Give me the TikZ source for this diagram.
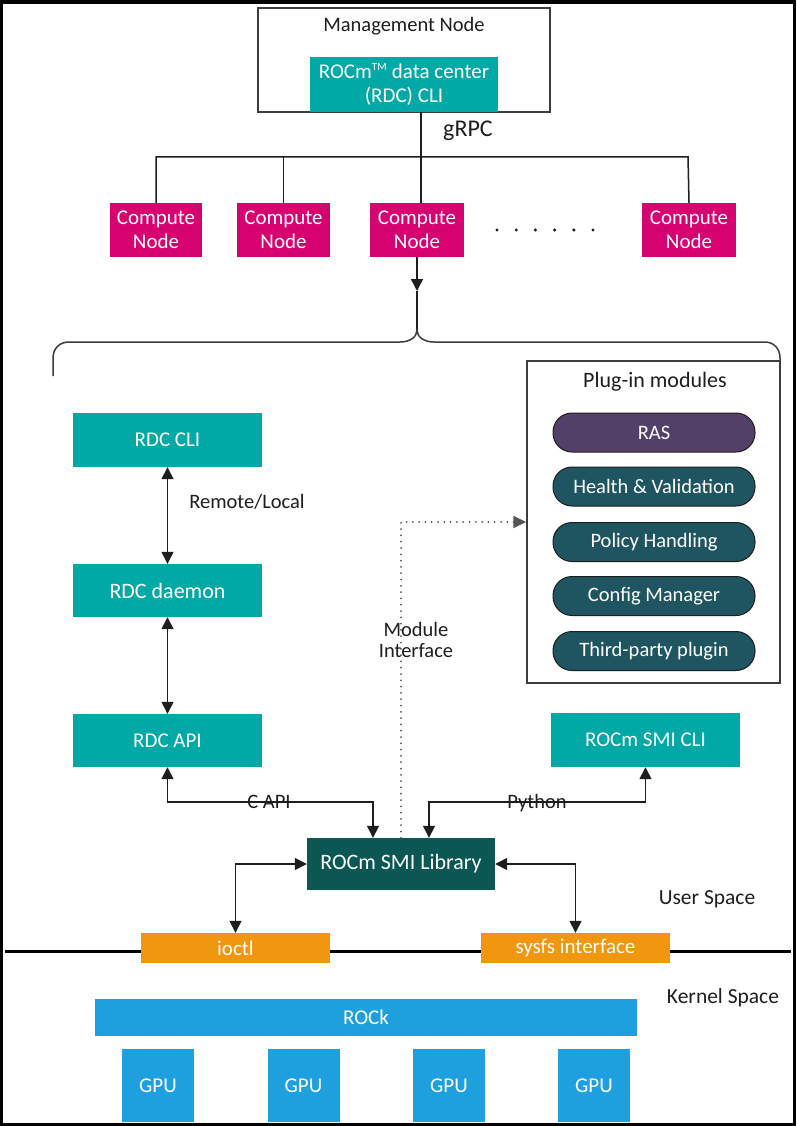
\documentclass[tikz,border=0pt]{standalone}
\usepackage{fontspec}
\setmainfont{Carlito}
\usetikzlibrary{arrows.meta}
\definecolor{tealA}{RGB}{0,169,165}
\definecolor{magA}{RGB}{214,2,112}
\definecolor{libA}{RGB}{10,87,83}
\definecolor{pillA}{RGB}{31,85,97}
\definecolor{rasA}{RGB}{83,64,105}
\definecolor{orangeA}{RGB}{240,150,15}
\definecolor{blueA}{RGB}{30,160,222}
\definecolor{inkA}{RGB}{30,30,30}
\definecolor{frameA}{RGB}{60,60,60}
\tikzset{
  fillbox/.style={rectangle, inner sep=0pt, text=white, align=center, font=\fontsize{21}{24}\selectfont},
  tealbox/.style={fillbox, fill=tealA},
  magbox/.style={fillbox, fill=magA},
  pill/.style={fillbox, fill=pillA, draw=inkA, line width=1pt, rounded corners=19pt, minimum width=202pt, minimum height=39pt},
  gpubox/.style={fillbox, fill=blueA, minimum width=72pt, minimum height=73pt},
  framebox/.style={rectangle, draw=frameA, line width=1.5pt, inner sep=0pt},
  lbl/.style={inner sep=0pt, text=inkA, align=center, font=\fontsize{20.5}{21}\selectfont},
  conn/.style={draw=inkA, line width=1.5pt},
  tip/.style={-{Triangle[length=12pt,width=12pt]}},
  tips/.style={{Triangle[length=12pt,width=12pt]}-{Triangle[length=12pt,width=12pt]}},
}
\begin{document}
\begin{tikzpicture}[x=1pt,y=-1pt]
\useasboundingbox (0,0) rectangle (796,1126);
\fill[white] (0,0) rectangle (796,1126);
\draw[black, line width=3pt] (1.5,2.5) rectangle (794.5,1124.5);
\fill[black] (0,0) rectangle (796,4);

% management node
\node[framebox, minimum width=292pt, minimum height=104pt] (mgmt) at (404,60) {};
\node[lbl] (mgmtlbl) at (404,26) {Management Node};
\node[tealbox, minimum width=188pt, minimum height=55pt] (rdctop) at (404,84.5) {ROCm\textsuperscript{\fontsize{11}{11}\selectfont TM} data center\\(RDC) CLI};
\node[lbl, font=\fontsize{24}{24}\selectfont] (grpc) at (468,131) {gRPC};

% compute nodes
\node[magbox, minimum width=92pt, minimum height=54pt] (c1) at (156,230) {Compute\\Node};
\node[magbox, minimum width=93pt, minimum height=54pt] (c2) at (283.5,230) {Compute\\Node};
\node[magbox, minimum width=94pt, minimum height=54pt] (c3) at (417,230) {Compute\\Node};
\node[magbox, minimum width=94pt, minimum height=54pt] (c5) at (689,230) {Compute\\Node};
\foreach \i in {0,...,5} { \fill[inkA] (497+\i*19.2,230) circle (1.7pt); }

\coordinate (busL) at (156,157);
\coordinate (busR) at (688,157);
\coordinate (busC) at (421,157);
\draw[conn] (c1.north) -- (busL) -- (busR) -- (c5.north);
\draw[conn] (c2.north) -- (c2.north |- busL);
\draw[conn] (rdctop.south -| busC) -- (c3.north -| busC);

% arrow to brace
\coordinate (atip) at (417,291);
\coordinate (btip) at (417,330);
\draw[conn, tip] (c3.south) -- (atip);
\draw[conn] (atip) -- (btip);
\draw[draw=frameA, line width=1.5pt] (53,376) -- (53,358) .. controls (53,349) and (59,342) .. (69,342) -- (400,342) .. controls (410,342) and (417,337) .. (btip) .. controls (417,337) and (424,342) .. (434,342) -- (765,342) .. controls (774,342) and (780,349) .. (780,358) -- (780,376);

% plug-in modules
\node[framebox, minimum width=253pt, minimum height=322pt] (plug) at (653.5,522) {};
\node[lbl, font=\fontsize{22}{22}\selectfont] (pluglbl) at (655,382) {Plug-in modules};
\node[pill, fill=rasA, font=\fontsize{20.5}{24}\selectfont] (ras) at (654,432.5) {RAS};
\node[pill, font=\fontsize{20.5}{24}\selectfont] (health) at (654,486.5) {Health \& Validation};
\node[pill, font=\fontsize{20.5}{24}\selectfont] (policy) at (654,542) {Policy Handling};
\node[pill, font=\fontsize{20.5}{24}\selectfont] (config) at (654,596) {Config Manager};
\node[pill, font=\fontsize{20.5}{24}\selectfont] (third) at (654,651) {Third-party plugin};

% left column
\node[tealbox, minimum width=189pt, minimum height=54pt] (rdccli) at (167.5,440) {RDC CLI};
\node[tealbox, minimum width=189pt, minimum height=53pt, font=\fontsize{22}{24}\selectfont] (rdcd) at (167.5,590.5) {RDC daemon};
\node[tealbox, minimum width=189pt, minimum height=53pt] (rdcapi) at (167.5,740.5) {RDC API};
\draw[conn, tips] (rdccli.south) -- (rdcd.north);
\draw[conn, tips] (rdcd.south) -- (rdcapi.north);
\node[lbl] (remote) at (247,502) {Remote/Local};

\node[tealbox, minimum width=189pt, minimum height=54pt] (smicli) at (645.5,740) {ROCm SMI CLI};
\node[fillbox, fill=libA, minimum width=188pt, minimum height=52pt, font=\fontsize{22}{24}\selectfont] (lib) at (401,864) {ROCm SMI Library};

% module interface (dotted)
\coordinate (mi) at (401,522);
\draw[inkA!75, line width=2pt, line cap=round, dash pattern=on 0pt off 6.3pt, -{Triangle[length=13pt,width=12pt]}] (lib.north) -- (mi) -- (plug.west |- mi);
\node[lbl] (milbl) at (416,640) {Module\\Interface};

% C API and Python
\coordinate (capi) at (373,802);
\coordinate (py) at (429,802);
\draw[conn, tips] (rdcapi.south) |- (capi) -- (lib.north -| capi);
\draw[conn, tips] (smicli.south) |- (py) -- (lib.north -| py);
\node[lbl, anchor=base] (capilbl) at (269,808) {C API};
\node[lbl, anchor=base] (pylbl) at (537,808) {Python};

% user/kernel boundary
\coordinate (kl) at (5,951);
\coordinate (kr) at (791,951);
\draw[black, line width=3pt] (kl) -- (kr);
\node[fillbox, fill=orangeA, minimum width=189pt, minimum height=30pt] (ioctl) at (235.5,948) {ioctl};
\node[fillbox, fill=orangeA, minimum width=189pt, minimum height=30pt] (sysfs) at (575.5,948) {sysfs interface};
\draw[conn, tips] (lib.west) -| (ioctl.north);
\draw[conn, tips] (lib.east) -| (sysfs.north);
\node[lbl, font=\fontsize{21.5}{21}\selectfont] (user) at (707,899) {User Space};
\node[lbl, font=\fontsize{21.5}{21}\selectfont] (kernel) at (723,998) {Kernel Space};

% kernel
\node[fillbox, fill=blueA, minimum width=542pt, minimum height=37pt] (rock) at (366,1017.5) {ROCk};
\node[gpubox] (g1) at (158,1085.5) {GPU};
\node[gpubox] (g2) at (303.5,1085.5) {GPU};
\node[gpubox] (g3) at (449,1085.5) {GPU};
\node[gpubox] (g4) at (594,1085.5) {GPU};
\end{tikzpicture}
\end{document}
